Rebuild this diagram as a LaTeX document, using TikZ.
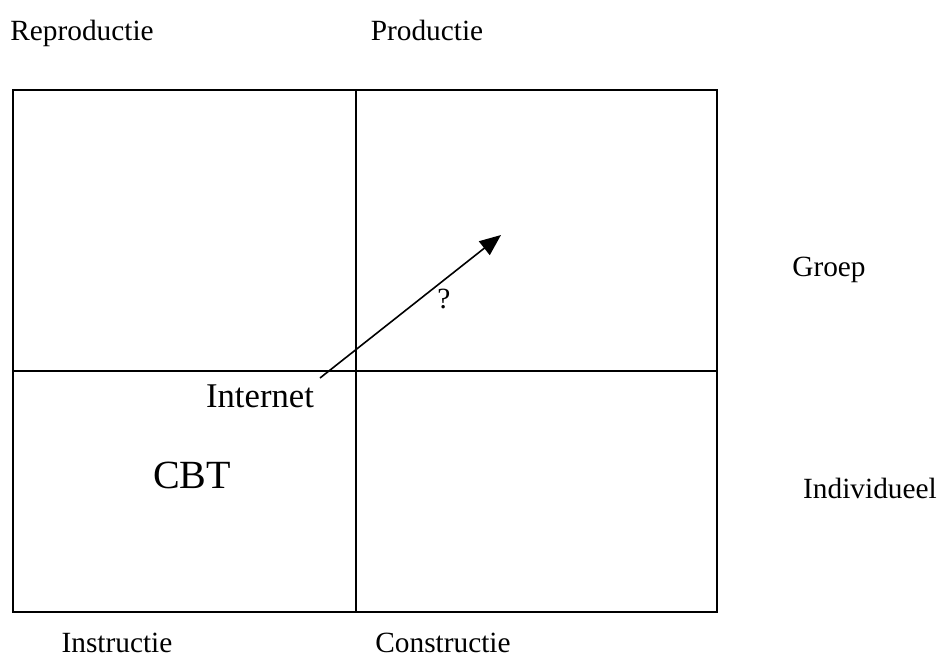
\documentclass[tikz,border=0pt]{standalone}
\usepackage{fontspec}
\setmainfont{Liberation Serif}
\usepackage{tikz}
\usetikzlibrary{arrows.meta}

\tikzset{
    axis_label/.style={anchor=base, inner sep=0pt, font=\fontsize{22}{24}\selectfont},
    cell_label/.style={anchor=base, inner sep=0pt},
    grid_line/.style={line width=1.2pt},
}

\begin{document}
\begin{tikzpicture}[x=0.75pt, y=-0.75pt]
        \useasboundingbox (0,0) rectangle (939,662);

        % GRID
        % -----------------
        \draw[grid_line] (13,90) rectangle (717,612);
        \draw[grid_line] (356,90) -- (356,612);
        \draw[grid_line] (13,371) -- (717,371);

        % NODES
        % -----------------
        \node[axis_label] (reproductie) at (82,40)  {Reproductie};
        \node[axis_label] (productie)   at (427,40) {Productie};
        \node[axis_label] (groep)       at (829,276) {Groep};
        \node[axis_label] (individueel) at (870,498) {Individueel};
        \node[axis_label] (instructie)  at (117,652) {Instructie};
        \node[axis_label] (constructie) at (443,652) {Constructie};

        \node[cell_label, font=\fontsize{26}{28}\selectfont] (internet) at (260,407) {Internet};
        \node[cell_label, font=\fontsize{30}{32}\selectfont] (cbt) at (192,488) {CBT};
        \node[axis_label] (question) at (444,308) {?};

        % EDGES
        % -----------------
        \coordinate (arrow_tail) at (320,378);
        \coordinate (arrow_head) at (501,235);
        \draw[line width=1.2pt, -{Triangle[length=16pt, width=13pt]}] (arrow_tail) -- (arrow_head);

\end{tikzpicture}
\end{document}
